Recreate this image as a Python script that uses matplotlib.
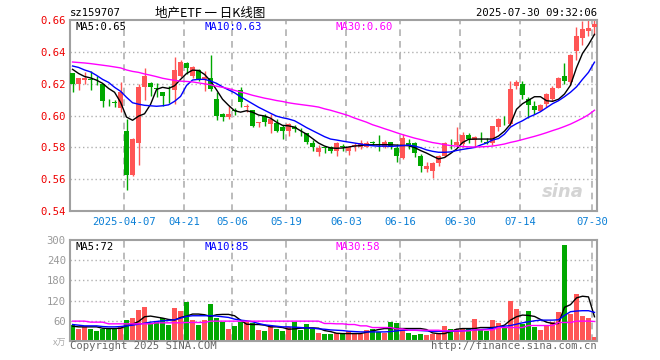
import matplotlib
matplotlib.use("Agg")
import matplotlib.pyplot as plt
import numpy as np

# 交易日 (88 days)
dates = [
    "2025-03-24", "2025-03-25", "2025-03-26", "2025-03-27", "2025-03-28", "2025-03-31",
    "2025-04-01", "2025-04-02", "2025-04-03", "2025-04-07", "2025-04-08", "2025-04-09",
    "2025-04-10", "2025-04-11", "2025-04-14", "2025-04-15", "2025-04-16", "2025-04-17",
    "2025-04-18", "2025-04-21", "2025-04-22", "2025-04-23", "2025-04-24", "2025-04-25",
    "2025-04-28", "2025-04-29", "2025-04-30", "2025-05-06", "2025-05-07", "2025-05-08",
    "2025-05-09", "2025-05-12", "2025-05-13", "2025-05-14", "2025-05-15", "2025-05-16",
    "2025-05-19", "2025-05-20", "2025-05-21", "2025-05-22", "2025-05-23", "2025-05-26",
    "2025-05-27", "2025-05-28", "2025-05-29", "2025-05-30", "2025-06-03", "2025-06-04",
    "2025-06-05", "2025-06-06", "2025-06-09", "2025-06-10", "2025-06-11", "2025-06-12",
    "2025-06-13", "2025-06-16", "2025-06-17", "2025-06-18", "2025-06-19", "2025-06-20",
    "2025-06-23", "2025-06-24", "2025-06-25", "2025-06-26", "2025-06-27", "2025-06-30",
    "2025-07-01", "2025-07-02", "2025-07-03", "2025-07-04", "2025-07-07", "2025-07-08",
    "2025-07-09", "2025-07-10", "2025-07-11", "2025-07-14", "2025-07-15", "2025-07-16",
    "2025-07-17", "2025-07-18", "2025-07-21", "2025-07-22", "2025-07-23", "2025-07-24",
    "2025-07-25", "2025-07-28", "2025-07-29", "2025-07-30",
]
tick_dates = ["2025-04-07", "2025-04-21", "2025-05-06", "2025-05-19", "2025-06-03",
              "2025-06-16", "2025-06-30", "2025-07-14", "2025-07-30"]
tick_labels = ["2025-04-07", "04-21", "05-06", "05-19", "06-03",
               "06-16", "06-30", "07-14", "07-30"]

opens = [0.6265, 0.620, 0.6225, 0.6228, 0.6222, 0.6195, 0.6092, 0.6085, 0.6045, 0.590,
         0.5627, 0.583, 0.6178, 0.6207, 0.6172, 0.6145, 0.6125, 0.616, 0.625, 0.6327,
         0.625, 0.6285, 0.6228, 0.6238, 0.6105, 0.601, 0.599, 0.6032, 0.616, 0.6052,
         0.6032, 0.5955, 0.5998, 0.5946, 0.5956, 0.5925, 0.590, 0.593, 0.5912, 0.5887,
         0.583, 0.5773, 0.5798, 0.5803, 0.578, 0.5808, 0.5779, 0.5808, 0.5804, 0.5804,
         0.5833, 0.582, 0.5804, 0.5831, 0.5795, 0.5733, 0.583, 0.5825, 0.5746, 0.5667,
         0.5654, 0.570, 0.5748, 0.5823, 0.5815, 0.5821, 0.5879, 0.5848, 0.5854, 0.5833,
         0.583, 0.593, 0.5973, 0.5948, 0.6185, 0.6196, 0.6105, 0.6058, 0.603, 0.607,
         0.6105, 0.6175, 0.6248, 0.621, 0.6404, 0.6488, 0.653, 0.6555]
highs = [0.6268, 0.6235, 0.6275, 0.628, 0.6248, 0.620, 0.6106, 0.6095, 0.621, 0.598,
         0.586, 0.620, 0.630, 0.621, 0.6205, 0.6148, 0.6185, 0.6365, 0.635, 0.6335,
         0.631, 0.6295, 0.628, 0.6377, 0.6145, 0.6015, 0.606, 0.6045, 0.618, 0.6075,
         0.6035, 0.596, 0.601, 0.601, 0.598, 0.594, 0.5956, 0.5938, 0.592, 0.589,
         0.5846, 0.5815, 0.581, 0.581, 0.5835, 0.582, 0.581, 0.5825, 0.5848, 0.5842,
         0.5842, 0.588, 0.5848, 0.5835, 0.582, 0.5885, 0.585, 0.5832, 0.5758, 0.5706,
         0.5705, 0.5752, 0.5833, 0.5852, 0.5929, 0.5898, 0.5888, 0.587, 0.5898, 0.5858,
         0.5935, 0.5983, 0.5995, 0.6217, 0.6225, 0.6215, 0.6115, 0.6088, 0.6072, 0.614,
         0.6185, 0.6245, 0.6331, 0.6385, 0.6554, 0.6596, 0.6598, 0.6598]
lows = [0.6145, 0.616, 0.620, 0.616, 0.619, 0.6055, 0.606, 0.6056, 0.602, 0.553,
        0.562, 0.569, 0.610, 0.612, 0.6115, 0.606, 0.608, 0.607, 0.624, 0.6258,
        0.6235, 0.6215, 0.6155, 0.6155, 0.597, 0.5965, 0.598, 0.6005, 0.6055, 0.6022,
        0.5925, 0.5928, 0.5935, 0.5892, 0.5895, 0.5852, 0.587, 0.5894, 0.5873, 0.5821,
        0.5777, 0.5748, 0.5762, 0.5765, 0.5748, 0.5779, 0.5752, 0.5779, 0.579, 0.580,
        0.5815, 0.5775, 0.5796, 0.579, 0.5708, 0.5727, 0.579, 0.5738, 0.5646, 0.5648,
        0.561, 0.568, 0.5738, 0.579, 0.5804, 0.5804, 0.5825, 0.580, 0.5835, 0.5821,
        0.5815, 0.590, 0.5938, 0.5935, 0.6165, 0.6104, 0.5985, 0.601, 0.6027, 0.6055,
        0.609, 0.617, 0.6195, 0.619, 0.635, 0.644, 0.650, 0.6508]
closes = [0.620, 0.6233, 0.6235, 0.6225, 0.622, 0.609, 0.6088, 0.608, 0.6145, 0.5627,
          0.5852, 0.618, 0.6248, 0.618, 0.6168, 0.612, 0.612, 0.6285, 0.6338, 0.6296,
          0.6302, 0.6225, 0.6245, 0.6165, 0.600, 0.599, 0.601, 0.6028, 0.6083, 0.6058,
          0.5935, 0.596, 0.596, 0.598, 0.590, 0.590, 0.5946, 0.5918, 0.5908, 0.5833,
          0.580, 0.5796, 0.5795, 0.578, 0.5827, 0.5804, 0.580, 0.581, 0.5827, 0.5827,
          0.583, 0.5817, 0.5831, 0.5806, 0.5748, 0.586, 0.5806, 0.5766, 0.5685, 0.5685,
          0.5702, 0.5746, 0.583, 0.582, 0.5835, 0.5879, 0.585, 0.5866, 0.585, 0.5829,
          0.5933, 0.5977, 0.597, 0.6165, 0.621, 0.6131, 0.6066, 0.6035, 0.6065, 0.6133,
          0.617, 0.6233, 0.6216, 0.6383, 0.6498, 0.6546, 0.6552, 0.6577]

ma5 = [0.629, 0.6264, 0.6245, 0.6236, 0.6222, 0.6202, 0.617, 0.6146, 0.6083, 0.599,
       0.597, 0.5996, 0.6011, 0.607, 0.6164, 0.6177, 0.617, 0.6187, 0.6227, 0.6264,
       0.6285, 0.6283, 0.6258, 0.6217, 0.6161, 0.6102, 0.6064, 0.603, 0.6021, 0.603,
       0.6021, 0.6003, 0.5997, 0.5983, 0.5958, 0.5938, 0.5935, 0.5927, 0.5904, 0.5883,
       0.5855, 0.5827, 0.5808, 0.5796, 0.5794, 0.5796, 0.5802, 0.5808, 0.5811, 0.5816,
       0.5816, 0.5816, 0.5817, 0.5816, 0.5814, 0.5812, 0.581, 0.5799, 0.578, 0.5764,
       0.5745, 0.5727, 0.5736, 0.5761, 0.5789, 0.583, 0.585, 0.5852, 0.5852, 0.5852,
       0.5852, 0.5871, 0.5902, 0.5946, 0.6039, 0.6074, 0.6096, 0.6118, 0.6118, 0.6093,
       0.6089, 0.6102, 0.6135, 0.619, 0.630, 0.639, 0.6445, 0.651]
ma10 = [0.6311, 0.6302, 0.6286, 0.6274, 0.6252, 0.6227, 0.6208, 0.6177, 0.6152, 0.6114,
        0.608, 0.6071, 0.6064, 0.6061, 0.6058, 0.6061, 0.6067, 0.6089, 0.612, 0.6189,
        0.6223, 0.6227, 0.6227, 0.6217, 0.6202, 0.618, 0.6161, 0.6143, 0.6118, 0.6096,
        0.6074, 0.6052, 0.6033, 0.6014, 0.5996, 0.5986, 0.5978, 0.5967, 0.5946, 0.5924,
        0.5905, 0.5886, 0.5867, 0.5852, 0.5846, 0.5839, 0.5833, 0.5827, 0.5821, 0.5814,
        0.581, 0.5807, 0.5808, 0.5806, 0.5808, 0.5811, 0.5814, 0.5808, 0.5798, 0.5784,
        0.5775, 0.5769, 0.5769, 0.5771, 0.578, 0.5787, 0.5793, 0.5799, 0.5814, 0.5827,
        0.5846, 0.5855, 0.5883, 0.5927, 0.5949, 0.5967, 0.5989, 0.6005, 0.6024, 0.6049,
        0.6074, 0.6093, 0.6118, 0.6146, 0.618, 0.6227, 0.6271, 0.6335]
ma30 = [0.6336, 0.6333, 0.633, 0.6326, 0.6321, 0.6316, 0.6311, 0.6305, 0.6299, 0.6286,
        0.6277, 0.6271, 0.6261, 0.6253, 0.6244, 0.6234, 0.6227, 0.6221, 0.6216, 0.6214,
        0.6211, 0.6205, 0.6199, 0.6193, 0.6184, 0.6177, 0.6169, 0.6158, 0.6148, 0.6138,
        0.6127, 0.6118, 0.6109, 0.6102, 0.6094, 0.6088, 0.608, 0.6074, 0.6069, 0.6064,
        0.6059, 0.6053, 0.6042, 0.6033, 0.6022, 0.6011, 0.5999, 0.5984, 0.5971, 0.5958,
        0.5942, 0.593, 0.5917, 0.5905, 0.5892, 0.588, 0.5869, 0.5858, 0.5849, 0.5839,
        0.583, 0.5824, 0.5817, 0.5811, 0.5808, 0.5805, 0.5803, 0.5802, 0.5803, 0.5805,
        0.5808, 0.5814, 0.5821, 0.5831, 0.5839, 0.5849, 0.5859, 0.5869, 0.588, 0.5892,
        0.5905, 0.5917, 0.5931, 0.5946, 0.5964, 0.5983, 0.6005, 0.6033]

# 成交量 (万手)
volumes = [47, 35, 42, 37, 29, 37, 35, 35, 45, 62, 67, 92, 102, 52, 57, 67, 47, 99, 89, 115,
           62, 49, 62, 110, 67, 57, 37, 44, 57, 55, 52, 32, 29, 47, 35, 29, 42, 57, 32, 50,
           37, 25, 22, 20, 25, 22, 29, 25, 20, 32, 37, 27, 25, 55, 52, 32, 25, 17, 22, 17,
           22, 23, 44, 37, 37, 37, 37, 65, 37, 29, 62, 52, 42, 119, 95, 50, 89, 42, 32, 49,
           55, 87, 284, 80, 140, 75, 67, 12]
vol_ma5 = [44, 42, 42, 42, 42, 38, 37, 37, 38, 45, 50, 58, 72, 74, 71, 68, 64, 62, 70, 74,
           80, 80, 78, 73, 78, 79, 79, 75, 62, 50, 49, 49, 47, 42, 42, 40, 35, 36, 38, 39,
           39, 38, 31, 28, 23, 22, 22, 22, 22, 26, 30, 34, 37, 37, 37, 37, 37, 37, 37, 34,
           24, 22, 22, 28, 35, 37, 37, 37, 40, 40, 40, 42, 47, 62, 72, 77, 76, 73, 64, 56,
           52, 52, 100, 108, 128, 133, 131, 72]
vol_ma10 = [49, 47, 45, 45, 45, 43, 42, 42, 43, 45, 47, 50, 53, 56, 58, 60, 61, 63, 68, 73,
            75, 75, 75, 75, 74, 72, 70, 65, 62, 60, 57, 52, 48, 46, 44, 42, 42, 41, 40, 39,
            38, 36, 35, 33, 32, 31, 29, 28, 27, 27, 27, 27, 27, 28, 30, 32, 32, 32, 31, 30,
            29, 29, 29, 29, 29, 30, 32, 33, 34, 35, 38, 42, 44, 46, 50, 54, 57, 60, 62, 62,
            62, 63, 76, 87, 89, 90, 90, 85]
vol_ma30 = [59, 59, 59, 56, 56, 56, 51, 51, 51, 51, 51, 51, 51, 51, 54, 54, 54, 54, 54, 55,
            55, 55, 55, 59, 59, 59, 59, 59, 59, 59, 59, 59, 59, 59, 59, 59, 59, 59, 59, 59,
            59, 59, 52, 52, 51, 51, 49, 49, 45, 45, 40, 40, 40, 40, 36, 36, 32, 32, 32, 32,
            32, 32, 30, 30, 30, 30, 30, 33, 33, 33, 33, 40, 40, 40, 40, 40, 46, 46, 46, 46,
            46, 55, 55, 55, 59, 59, 59, 58]

RED = "#ff5555"
GREEN = "#00a800"
GRID = "#b0b0b0"
SPINE = "#a0a0a0"
MONO = "DejaVu Sans Mono"

n = len(closes)
x = np.arange(n)
o = np.array(opens)
c = np.array(closes)
up = c >= o
colors = [RED if u else GREEN for u in up]
tick_pos = [dates.index(d) for d in tick_dates]

fig = plt.figure(figsize=(6.6, 3.6), dpi=100)
ax = fig.add_axes([70 / 660, 1 - 211 / 360, 527 / 660, 191 / 360])
axv = fig.add_axes([70 / 660, 1 - 341 / 360, 527 / 660, 101 / 360])

for a in (ax, axv):
    a.set_xlim(-0.03, n - 1 + 0.82)
    for s in a.spines.values():
        s.set_color(SPINE)
        s.set_linewidth(1.5)
    for p in tick_pos:
        a.axvline(p, color=GRID, lw=1.2, ls=(0, (4, 3)), zorder=0)
    a.tick_params(length=0)

# K线
body_lo = np.minimum(o, c)
body_h = np.maximum(np.abs(c - o), 0.0004)
ax.vlines(x + 0.4, lows, highs, colors=colors, lw=1.0, zorder=2)
ax.bar(x, body_h, bottom=body_lo, width=0.8, align="edge", color=colors, lw=0, zorder=3)
ax.plot(x + 0.4, ma5, color="black", lw=1, zorder=4)
ax.plot(x + 0.4, ma10, color="#0000ff", lw=1, zorder=4)
ax.plot(x + 0.4, ma30, color="#ff00ff", lw=1, zorder=4)

ax.set_ylim(0.54, 0.66)
yt = [0.54, 0.56, 0.58, 0.60, 0.62, 0.64, 0.66]
ax.set_yticks(yt)
ax.set_yticklabels(["%.2f" % v for v in yt], color="#ee0000", fontsize=7.6, family=MONO)
for v in yt[1:-1]:
    ax.axhline(v, color=GRID, lw=1, ls=(0, (1, 2)), zorder=0)
ax.set_xticks(tick_pos)
ax.set_xticklabels(tick_labels, color="#0a7fd6", fontsize=7.6, family=MONO)
ax.tick_params(axis="x", pad=4)
ax.tick_params(axis="y", pad=3)

ax.text(0.01, 0.965, "MA5:%.2f" % ma5[-1], transform=ax.transAxes, color="black",
        fontsize=7.6, family=MONO, va="center")
ax.text(0.256, 0.965, "MA10:%.2f" % ma10[-1], transform=ax.transAxes, color="#0000ff",
        fontsize=7.6, family=MONO, va="center")
ax.text(0.503, 0.965, "MA30:%.2f" % ma30[-1], transform=ax.transAxes, color="#ff00ff",
        fontsize=7.6, family=MONO, va="center")
ax.text(0.975, 0.1, "sina", transform=ax.transAxes, color="#d4d4d4", fontsize=13,
        fontweight="bold", style="italic", ha="right", va="center")

# 成交量
axv.bar(x, volumes, width=0.8, align="edge", color=colors, lw=0, zorder=2)
axv.plot(x + 0.4, vol_ma5, color="black", lw=1, zorder=3)
axv.plot(x + 0.4, vol_ma10, color="#0000ff", lw=1, zorder=3)
axv.plot(x + 0.4, vol_ma30, color="#ff00ff", lw=1, zorder=3)
axv.set_ylim(0, 300)
vt = [60, 120, 180, 240, 300]
axv.set_yticks(vt)
axv.set_yticklabels([str(v) for v in vt], color="#999999", fontsize=7.6, family=MONO)
for v in vt[:-1]:
    axv.axhline(v, color=GRID, lw=1, ls=(0, (1, 2)), zorder=0)
axv.set_xticks([])
axv.tick_params(axis="y", pad=3)
axv.text(0.01, 0.93, "MA5:%d" % vol_ma5[-1], transform=axv.transAxes, color="black",
         fontsize=7.6, family=MONO, va="center")
axv.text(0.256, 0.93, "MA10:%d" % vol_ma10[-1], transform=axv.transAxes, color="#0000ff",
         fontsize=7.6, family=MONO, va="center")
axv.text(0.503, 0.93, "MA30:%d" % vol_ma30[-1], transform=axv.transAxes, color="#ff00ff",
         fontsize=7.6, family=MONO, va="center")

# 标题和页脚
fig.text(70 / 660, 1 - 13 / 360, "sz159707", fontsize=7.6, family=MONO, va="center")
fig.text(210 / 660, 1 - 13 / 360, "地产ETF 一 日K线图", fontsize=9, ha="center", va="center",
         family=["Noto Sans CJK SC", "DejaVu Sans"])
fig.text(597 / 660, 1 - 13 / 360, "2025-07-30 09:32:06", fontsize=7.6, family=MONO,
         ha="right", va="center")
fig.text(66 / 660, 1 - 343 / 360, "x万", fontsize=6.5, color="#aaaaaa", ha="right", va="center",
         family=["Noto Sans CJK SC", "DejaVu Sans"])
fig.text(70 / 660, 1 - 346 / 360, "Copyright 2025 SINA.COM", fontsize=7.6, family=MONO,
         color="#666666", va="center")
fig.text(597 / 660, 1 - 346 / 360, "http://finance.sina.com.cn", fontsize=7.6, family=MONO,
         color="#666666", ha="right", va="center")

fig.savefig("out.png", dpi=100)
